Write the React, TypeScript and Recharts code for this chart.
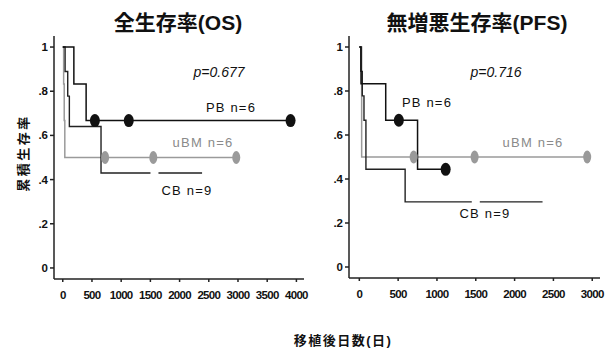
import React from "react";
import { ComposedChart, Line, Scatter, XAxis, YAxis } from "recharts";

// ---- Overall survival (OS) ----
const osPB = [
  { x: 0, y: 1 },
  { x: 190, y: 0.833 },
  { x: 400, y: 0.667 },
  { x: 3900, y: 0.667 },
];
const osPBCensor = [
  { x: 550, y: 0.667 },
  { x: 1130, y: 0.667 },
  { x: 3900, y: 0.667 },
];
const osUBM = [
  { x: 0, y: 1 },
  { x: 15, y: 0.833 },
  { x: 25, y: 0.667 },
  { x: 35, y: 0.5 },
  { x: 2970, y: 0.5 },
];
const osUBMCensor = [
  { x: 725, y: 0.5 },
  { x: 1550, y: 0.5 },
  { x: 2970, y: 0.5 },
];
const osCB = [
  { x: 0, y: 1 },
  { x: 40, y: 0.889 },
  { x: 85, y: 0.778 },
  { x: 113, y: 0.64 },
  { x: 655, y: 0.43 },
  { x: 2385, y: 0.43 },
];
const osCBGap = [{ x: 1570, y: 0.43 }];
const osXTicks = [0, 500, 1000, 1500, 2000, 2500, 3000, 3500, 4000];

// ---- Progression-free survival (PFS) ----
const pfsPB = [
  { x: 0, y: 1 },
  { x: 22, y: 0.833 },
  { x: 340, y: 0.667 },
  { x: 750, y: 0.444 },
  { x: 1112, y: 0.444 },
];
const pfsPBCensor = [
  { x: 509, y: 0.667 },
  { x: 1112, y: 0.444 },
];
const pfsUBM = [
  { x: 0, y: 1 },
  { x: 30, y: 0.5 },
  { x: 2935, y: 0.5 },
];
const pfsUBMCensor = [
  { x: 700, y: 0.5 },
  { x: 1485, y: 0.5 },
  { x: 2935, y: 0.5 },
];
const pfsCB = [
  { x: 0, y: 1 },
  { x: 20, y: 0.889 },
  { x: 38, y: 0.778 },
  { x: 60, y: 0.667 },
  { x: 85, y: 0.444 },
  { x: 590, y: 0.296 },
  { x: 2360, y: 0.296 },
];
const pfsCBGap = [{ x: 1500, y: 0.296 }];
const pfsXTicks = [0, 500, 1000, 1500, 2000, 2500, 3000];

const yTicks = [0, 0.2, 0.4, 0.6, 0.8, 1];

const fmtY = (v: number) => (v === 0 ? "0" : v === 1 ? "1" : String(v).replace(/^0/, ""));

const blackEllipse = (p: any) => (
  <ellipse cx={p.cx} cy={p.cy} rx={5} ry={6.5} fill="#111" />
);
const grayEllipse = (p: any) => (
  <ellipse cx={p.cx} cy={p.cy} rx={4} ry={6.5} fill="#9a9a9a" />
);
const whiteGap = (p: any) => (
  <rect x={p.cx - 4} y={p.cy - 3} width={8} height={6} fill="#fff" />
);

const tickStyle = {
  fontFamily: "'Liberation Sans', Arial, sans-serif",
  fontSize: 11.5,
  fontWeight: "bold" as const,
  fill: "#111",
};

type PanelProps = {
  left: number;
  width: number;
  marginLeft: number;
  marginRight: number;
  marginBottom: number;
  xDomain: [number, number];
  xTicks: number[];
  pb: { x: number; y: number }[];
  pbCensor: { x: number; y: number }[];
  ubm: { x: number; y: number }[];
  ubmCensor: { x: number; y: number }[];
  cb: { x: number; y: number }[];
  cbGap: { x: number; y: number }[];
};

function Panel(props: PanelProps) {
  return (
    <div style={{ position: "absolute", left: props.left, top: 0 }}>
      <ComposedChart
        width={props.width}
        height={320}
        margin={{ top: 36, right: props.marginRight, left: props.marginLeft, bottom: props.marginBottom }}
      >
        <XAxis
          type="number"
          dataKey="x"
          domain={props.xDomain}
          ticks={props.xTicks}
          allowDataOverflow
          height={30}
          tickSize={3}
          tickMargin={9}
          stroke="#222"
          strokeWidth={1.5}
          tick={{ ...tickStyle, letterSpacing: -0.7 }}
          interval={0}
        />
        <YAxis
          type="number"
          dataKey="y"
          domain={[-0.05, 1.05]}
          ticks={yTicks}
          allowDataOverflow
          width={24}
          tickSize={4}
          tickMargin={2}
          stroke="#222"
          strokeWidth={1.5}
          tick={tickStyle}
          tickFormatter={fmtY}
        />
        <Line
          data={props.ubm}
          dataKey="y"
          type="stepAfter"
          stroke="#9a9a9a"
          strokeWidth={1.5}
          dot={false}
          activeDot={false}
          isAnimationActive={false}
        />
        <Line
          data={props.cb}
          dataKey="y"
          type="stepAfter"
          stroke="#222"
          strokeWidth={1.4}
          dot={false}
          activeDot={false}
          isAnimationActive={false}
        />
        <Line
          data={props.pb}
          dataKey="y"
          type="stepAfter"
          stroke="#111"
          strokeWidth={1.5}
          dot={false}
          activeDot={false}
          isAnimationActive={false}
        />
        <Scatter data={props.cbGap} dataKey="y" shape={whiteGap} isAnimationActive={false} />
        <Scatter data={props.ubmCensor} dataKey="y" shape={grayEllipse} isAnimationActive={false} />
        <Scatter data={props.pbCensor} dataKey="y" shape={blackEllipse} isAnimationActive={false} />
      </ComposedChart>
    </div>
  );
}

const baseFont = "'Liberation Sans', Arial, 'Noto Sans CJK JP', sans-serif";

function Txt(props: {
  x: number;
  y: number;
  size: number;
  children: React.ReactNode;
  bold?: boolean;
  italic?: boolean;
  color?: string;
  spacing?: number;
  rotate?: boolean;
}) {
  return (
    <div
      style={{
        position: "absolute",
        left: props.x,
        top: props.y,
        transform: `translate(-50%, -50%)${props.rotate ? " rotate(-90deg)" : ""}`,
        fontFamily: baseFont,
        fontSize: props.size,
        fontWeight: props.bold ? "bold" : "normal",
        fontStyle: props.italic ? "italic" : "normal",
        color: props.color || "#111",
        letterSpacing: props.spacing || 0,
        whiteSpace: "nowrap",
        lineHeight: 1,
      }}
    >
      {props.children}
    </div>
  );
}

export default function App() {
  return (
    <div
      style={{
        position: "absolute",
        left: 0,
        top: 0,
        width: 605,
        height: 352,
        background: "#fff",
        overflow: "hidden",
      }}
    >
      <Panel
        left={0}
        width={310}
        marginLeft={30}
        marginRight={6}
        marginBottom={11}
        xDomain={[-150, 4130]}
        xTicks={osXTicks}
        pb={osPB}
        pbCensor={osPBCensor}
        ubm={osUBM}
        ubmCensor={osUBMCensor}
        cb={osCB}
        cbGap={osCBGap}
      />
      <Panel
        left={300}
        width={305}
        marginLeft={25}
        marginRight={5}
        marginBottom={12}
        xDomain={[-133, 3100]}
        xTicks={pfsXTicks}
        pb={pfsPB}
        pbCensor={pfsPBCensor}
        ubm={pfsUBM}
        ubmCensor={pfsUBMCensor}
        cb={pfsCB}
        cbGap={pfsCBGap}
      />

      <Txt x={178} y={22} size={21} bold>全生存率(OS)</Txt>
      <Txt x={477} y={22} size={21} bold>無増悪生存率(PFS)</Txt>

      <Txt x={23} y={153} size={13} bold spacing={2.5} rotate>累積生存率</Txt>
      <Txt x={343} y={340} size={13} bold spacing={1.5}>移植後日数(日)</Txt>

      <Txt x={219} y={72} size={14} italic>p=0.677</Txt>
      <Txt x={496} y={72} size={14} italic>p=0.716</Txt>

      <Txt x={231} y={107} size={13} spacing={1.2}>PB n=6</Txt>
      <Txt x={203} y={142} size={13} spacing={1.2} color="#8a8a8a">uBM n=6</Txt>
      <Txt x={187} y={190} size={13} spacing={1.2}>CB n=9</Txt>

      <Txt x={427} y={102} size={13} spacing={1.2}>PB n=6</Txt>
      <Txt x={533} y={142} size={13} spacing={1.2} color="#8a8a8a">uBM n=6</Txt>
      <Txt x={485} y={213} size={13} spacing={1.2}>CB n=9</Txt>
    </div>
  );
}
